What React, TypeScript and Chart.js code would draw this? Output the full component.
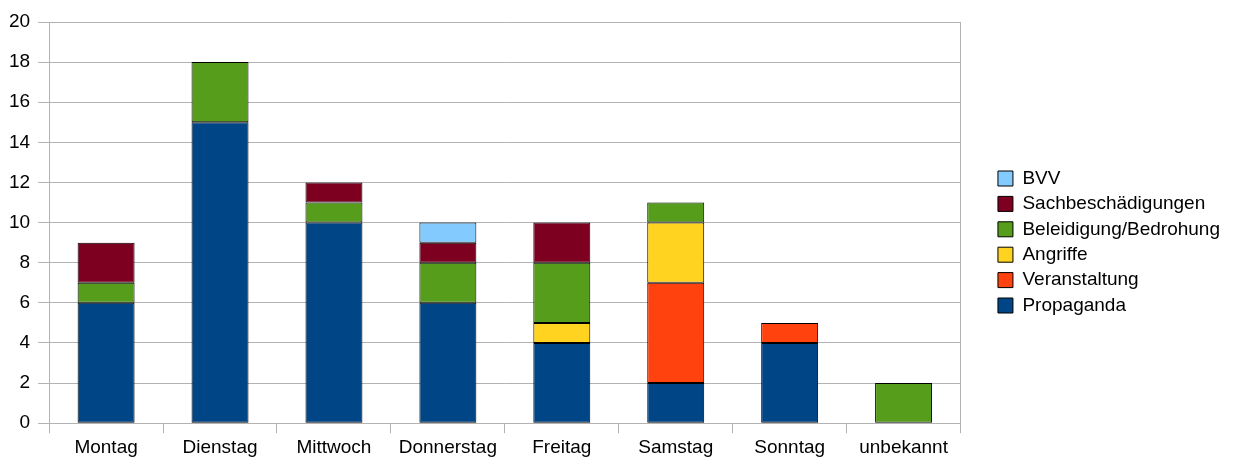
import React, { useEffect, useRef } from "react";
import { Chart, registerables } from "chart.js";

Chart.register(...registerables);

const categories = ["Montag", "Dienstag", "Mittwoch", "Donnerstag", "Freitag", "Samstag", "Sonntag", "unbekannt"];
const propaganda = [6, 15, 10, 6, 4, 2, 4, 0];
const veranstaltung = [0, 0, 0, 0, 0, 5, 1, 0];
const angriffe = [0, 0, 0, 0, 1, 3, 0, 0];
const beleidigung = [1, 3, 1, 2, 3, 1, 0, 2];
const sachbeschaedigungen = [2, 0, 1, 1, 2, 0, 0, 0];
const bvv = [0, 0, 0, 1, 0, 0, 0, 0];
const yTicks = [0, 2, 4, 6, 8, 10, 12, 14, 16, 18, 20];

const FONT = "'Liberation Sans', Arial, sans-serif";

export default function App() {
  const ref = useRef<HTMLCanvasElement>(null);
  useEffect(() => {
    document.body.style.margin = "0";
    const ctx = ref.current!;
    const mk = (label: string, data: number[], color: string) => ({
      label,
      data,
      backgroundColor: color,
      borderColor: "#000000",
      borderWidth: 1,
      borderSkipped: false as const,
      categoryPercentage: 1,
      barPercentage: 0.5,
    });
    const chart = new Chart(ctx, {
      type: "bar",
      data: {
        labels: categories,
        datasets: [
          mk("Propaganda", propaganda, "#004586"),
          mk("Veranstaltung", veranstaltung, "#ff420e"),
          mk("Angriffe", angriffe, "#ffd320"),
          mk("Beleidigung/Bedrohung", beleidigung, "#579d1c"),
          mk("Sachbeschädigungen", sachbeschaedigungen, "#7e0021"),
          mk("BVV", bvv, "#83caff"),
        ],
      },
      options: {
        animation: false,
        responsive: false,
        devicePixelRatio: 1,
        layout: { padding: { left: 1, top: 22, right: 11, bottom: -1 } },
        plugins: {
          tooltip: { enabled: false },
          legend: {
            position: "right",
            reverse: true,
            maxWidth: 400,
            labels: {
              boxWidth: 15,
              boxHeight: 15,
              padding: 6.4,
              color: "#000000",
              font: { family: FONT, size: 19 },
            },
          },
        },
        scales: {
          x: {
            stacked: true,
            grid: {
              offset: true,
              drawOnChartArea: false,
              drawTicks: true,
              tickLength: 10,
              color: "#b3b3b3",
            },
            border: { color: "#b3b3b3" },
            ticks: { color: "#000000", font: { family: FONT, size: 19 }, padding: 3, maxRotation: 0, autoSkip: false },
          },
          y: {
            stacked: true,
            min: yTicks[0],
            max: yTicks[yTicks.length - 1],
            grid: { color: "#b3b3b3", tickLength: 11 },
            border: { color: "#b3b3b3" },
            ticks: { stepSize: 2, color: "#000000", font: { family: FONT, size: 19 }, padding: 8 },
          },
          y2: {
            position: "right",
            min: yTicks[0],
            max: yTicks[yTicks.length - 1],
            grid: { drawOnChartArea: false, drawTicks: false },
            border: { color: "#b3b3b3" },
            ticks: { display: false },
            afterFit: (scale: any) => {
              scale.width = 31;
            },
          },
        },
      },
    });
    return () => chart.destroy();
  }, []);
  return <canvas ref={ref} width={1241} height={461} style={{ display: "block" }} />;
}
